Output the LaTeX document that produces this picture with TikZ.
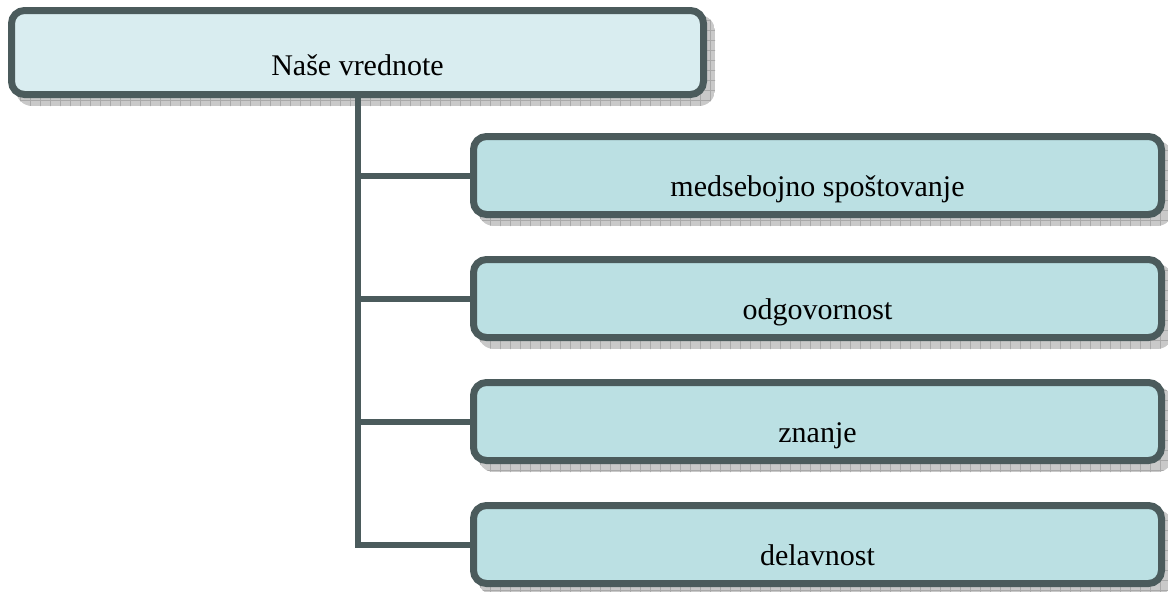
\documentclass[tikz,border=0pt]{standalone}
\usepackage{fontspec}
\setmainfont{Liberation Serif}
\usetikzlibrary{backgrounds}
\definecolor{bordc}{HTML}{4B5B5C}
\definecolor{topfill}{HTML}{D9EDF0}
\definecolor{childfill}{HTML}{BBE0E3}
\definecolor{shadfill}{HTML}{C9C9C9}
\definecolor{shadline}{HTML}{A9A9A9}
\tikzset{
  box/.style={draw=bordc, line width=7pt, rounded corners=13pt, outer sep=0pt, inner sep=0pt, rectangle},
  topbox/.style={box, fill=topfill, minimum width=692pt, minimum height=84pt},
  childbox/.style={box, fill=childfill, minimum width=688pt, minimum height=78pt},
  lbl/.style={font=\fontsize{30}{35}\selectfont, text=black, anchor=base, inner sep=0pt},
  conn/.style={draw=bordc, line width=6pt, line join=miter},
}
\begin{document}
\begin{tikzpicture}[x=1pt,y=1pt]
\useasboundingbox (0,0) rectangle (1168,-592);
\node[topbox] (top) at (357.5,-52.5) {};
\node[childbox] (c1) at (817.5,-175.5) {};
\node[childbox] (c2) at (817.5,-298.5) {};
\node[childbox] (c3) at (817.5,-421.5) {};
\node[childbox] (c4) at (817.5,-544.5) {};
\node[lbl] (t0) at ([yshift=-22.5pt]top.center) {Naše vrednote};
\node[lbl] (t1) at ([yshift=-20.5pt]c1.center) {medsebojno spoštovanje};
\node[lbl] (t2) at ([yshift=-20.5pt]c2.center) {odgovornost};
\node[lbl] (t3) at ([yshift=-20.5pt]c3.center) {znanje};
\node[lbl] (t4) at ([yshift=-20.5pt]c4.center) {delavnost};
\begin{scope}[on background layer]
  \foreach \n in {top,c1,c2,c3,c4} {
    \begin{scope}
      \clip[rounded corners=16pt] ([shift={(4.5,-11.5)}]\n.south west) rectangle ([shift={(11.5,-4.5)}]\n.north east);
      \fill[shadfill] ([shift={(4.5,-11.5)}]\n.south west) rectangle ([shift={(11.5,-4.5)}]\n.north east);
      \draw[shadline, line width=0.5pt, step=10pt] ([shift={(0,-20)}]\n.south west) grid ([shift={(20,0)}]\n.north east);
    \end{scope}
  }
  \draw[conn] (top.south) |- (c4.west);
  \draw[conn] (top.south |- c1.west) -- (c1.west);
  \draw[conn] (top.south |- c2.west) -- (c2.west);
  \draw[conn] (top.south |- c3.west) -- (c3.west);
\end{scope}
\end{tikzpicture}
\end{document}
